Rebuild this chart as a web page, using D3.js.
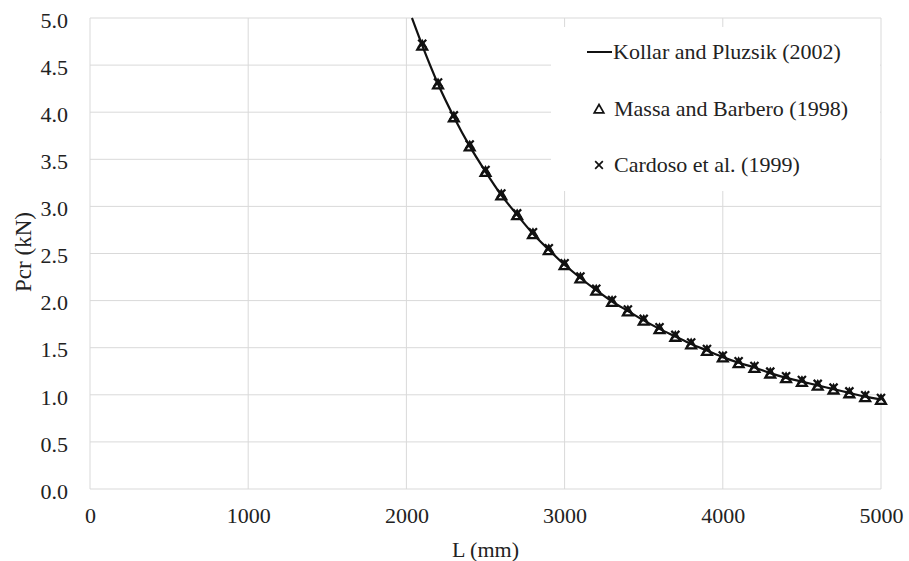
<!DOCTYPE html>
<html><head><meta charset="utf-8">
<script src="https://cdn.jsdelivr.net/npm/d3@7"></script>
<style>body{margin:0;background:#fff}svg{display:block}</style>
</head><body><svg id="c" width="909" height="561"></svg>
<script>
const xTicks = [0,1000,2000,3000,4000,5000];
const yTicks = [0,0.5,1,1.5,2,2.5,3,3.5,4,4.5,5];
const lengths = [2100,2200,2300,2400,2500,2600,2700,2800,2900,3000,3100,3200,3300,3400,3500,3600,3700,3800,3900,4000,4100,4200,4300,4400,4500,4600,4700,4800,4900,5000];
const massa = [4.71,4.30,3.95,3.64,3.37,3.12,2.91,2.71,2.54,2.38,2.24,2.11,1.99,1.89,1.79,1.70,1.62,1.54,1.47,1.40,1.34,1.29,1.23,1.18,1.14,1.10,1.06,1.02,0.98,0.95];
const cardoso = [4.71,4.30,3.95,3.64,3.37,3.12,2.91,2.71,2.54,2.38,2.24,2.11,1.99,1.89,1.79,1.70,1.62,1.54,1.47,1.40,1.34,1.29,1.23,1.18,1.14,1.10,1.06,1.02,0.98,0.95];
const kollarL = [2035,2100,2200,2300,2400,2500,2600,2700,2800,2900,3000,3100,3200,3300,3400,3500,3600,3700,3800,3900,4000,4100,4200,4300,4400,4500,4600,4700,4800,4900,5000];
const kollarP = [5.00,4.71,4.30,3.95,3.64,3.37,3.12,2.91,2.71,2.54,2.38,2.24,2.11,1.99,1.89,1.79,1.70,1.62,1.54,1.47,1.40,1.34,1.29,1.23,1.18,1.14,1.10,1.06,1.02,0.98,0.95];
const legendLabels = ["Kollar and Pluzsik (2002)","Massa and Barbero (1998)","Cardoso et al. (1999)"];

const FONT = '"Liberation Serif"';
const svg = d3.select("#c");
const x = d3.scaleLinear().domain([0,5000]).range([90,881]);
const y = d3.scaleLinear().domain([0,5]).range([489,18]);
const grid = "#d9d9d9";

const g = svg.append("g");
g.selectAll(".gx").data(xTicks).join("line").attr("x1",d=>x(d)).attr("x2",d=>x(d)).attr("y1",y(0)).attr("y2",y(5)).attr("stroke",grid).attr("stroke-width",1);
g.selectAll(".gy").data(yTicks).join("line").attr("x1",x(0)).attr("x2",x(5000)).attr("y1",d=>y(d)).attr("y2",d=>y(d)).attr("stroke",grid).attr("stroke-width",1);

const xa = svg.append("g").attr("transform",`translate(0,${y(0)})`).call(d3.axisBottom(x).tickValues(xTicks).tickFormat(d3.format("d")).tickSize(0).tickPadding(18));
const ya = svg.append("g").attr("transform",`translate(${x(0)},0)`).call(d3.axisLeft(y).tickValues(yTicks).tickFormat(d3.format(".1f")).tickSize(0).tickPadding(22));
[xa,ya].forEach(a=>{a.attr("font-family",null).attr("font-size",null);a.select(".domain").remove();
  a.selectAll("text").attr("font-family",FONT).attr("font-size",22).attr("fill","#222");});
ya.selectAll("text").attr("dy","0.42em");

svg.append("text").attr("x",(x(0)+x(5000))/2).attr("y",557).attr("text-anchor","middle").attr("font-family",FONT).attr("font-size",22).attr("fill","#222").text("L (mm)");
svg.append("text").attr("transform",`translate(31,252) rotate(-90)`).attr("text-anchor","middle").attr("font-family",FONT).attr("font-size",23).attr("fill","#222").text("Pcr (kN)");

svg.append("rect").attr("x",551).attr("y",27).attr("width",329).attr("height",164).attr("fill","#fff");

const line = d3.line().x((d,i)=>x(kollarL[i])).y(d=>y(d)).curve(d3.curveMonotoneX);
svg.append("path").attr("d",line(kollarP)).attr("fill","none").attr("stroke","#111").attr("stroke-width",2.2);

const tri = d3.symbol().type(d3.symbolTriangle).size(42);
svg.selectAll(".tri").data(massa).join("path").attr("d",tri)
  .attr("transform",(d,i)=>`translate(${x(lengths[i])},${y(d)+1.5})`)
  .attr("fill","none").attr("stroke","#111").attr("stroke-width",2.3);
const cross = d3.symbol().type(d3.symbolTimes).size(44);
svg.selectAll(".crs").data(cardoso).join("path").attr("d",cross)
  .attr("transform",(d,i)=>`translate(${x(lengths[i])},${y(d)-1.5})`)
  .attr("fill","none").attr("stroke","#111").attr("stroke-width",2.2);

const lg = svg.append("g");
lg.append("line").attr("x1",587).attr("x2",612).attr("y1",52).attr("y2",52).attr("stroke","#111").attr("stroke-width",2);
lg.append("text").attr("x",613).attr("y",59).attr("font-family",FONT).attr("font-size",22).attr("fill","#222").text(legendLabels[0]);
lg.append("path").attr("d",d3.symbol().type(d3.symbolTriangle).size(40)).attr("transform","translate(599,110)").attr("fill","none").attr("stroke","#111").attr("stroke-width",1.7);
lg.append("text").attr("x",614).attr("y",116).attr("font-family",FONT).attr("font-size",22).attr("fill","#222").text(legendLabels[1]);
lg.append("path").attr("d",d3.symbol().type(d3.symbolTimes).size(40)).attr("transform","translate(599,165)").attr("fill","none").attr("stroke","#111").attr("stroke-width",1.7);
lg.append("text").attr("x",614).attr("y",172).attr("font-family",FONT).attr("font-size",22).attr("fill","#222").text(legendLabels[2]);
</script></body></html>
